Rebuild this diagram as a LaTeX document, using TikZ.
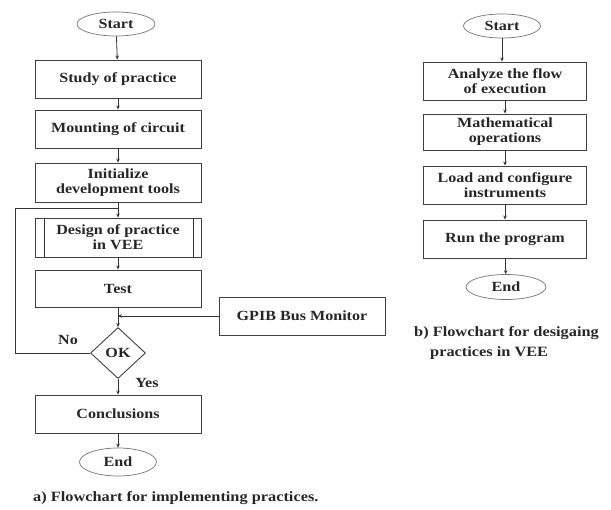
\documentclass[tikz,border=0pt]{standalone}
\usepackage{fontspec}
\setmainfont{Liberation Serif}[FakeStretch=1.15]
\usetikzlibrary{shapes.geometric,arrows.meta}
\begin{document}
\begin{tikzpicture}[x=1pt,y=-1pt,
  lbl/.style={font=\fontsize{14}{15}\selectfont\bfseries, text=black!85},
  box/.style={lbl, draw=black!75, line width=0.9pt, rectangle, minimum width=166pt, inner sep=0pt, align=center},
  term/.style={lbl, draw=black!55, line width=0.7pt, ellipse, inner sep=0pt, align=center},
  dec/.style={lbl, draw=black!75, line width=0.9pt, diamond, minimum width=55pt, minimum height=51pt, inner sep=0pt},
  arr/.style={draw=black!80, line width=0.8pt, -{Stealth[length=4pt,width=3.5pt]}},
  ln/.style={draw=black!80, line width=0.8pt},
  captxt/.style={font=\fontsize{14.2}{17}\selectfont\bfseries, text=black!85, inner sep=0pt}
]
\useasboundingbox (0,0) rectangle (611,510);
% left chart
\node[term, minimum width=78pt, minimum height=24pt] (s1) at (116,24) {Start};
\node[box, minimum height=38pt] (b1) at (118,79) {Study of practice};
\node[box, minimum height=38pt] (b2) at (118,129) {Mounting of circuit};
\node[box, minimum height=39pt] (b3) at (118,182.5) {Initialize\\development tools};
\node[box, minimum height=39pt] (b4) at (118,237.5) {Design of practice\\in VEE};
\draw[ln] ([xshift=10pt]b4.north west) -- ([xshift=10pt]b4.south west);
\draw[ln] ([xshift=-8pt]b4.north east) -- ([xshift=-8pt]b4.south east);
\node[box, minimum height=37pt] (b5) at (118,288.5) {Test};
\node[box, minimum width=166pt, minimum height=38pt] (g) at (302,316) {GPIB Bus Monitor};
\coordinate (m) at (118,316);
\node[dec] (d) at (118,353) {OK};
\node[box, minimum height=38pt] (b6) at (118,414) {Conclusions};
\node[term, minimum width=77pt, minimum height=28pt] (e1) at (118,462) {End};
\coordinate (j) at (118,208);
\coordinate (lc) at (15,353);
\coordinate (lt) at (15,208);
\draw[arr] (s1) -- (b1);
\draw[arr] (b1) -- (b2);
\draw[arr] (b2) -- (b3);
\draw[arr] (b3) -- (b4);
\draw[arr] (b4) -- (b5);
\draw[ln] (b5) -- (m);
\draw[arr] (g.west) -- (m);
\draw[arr] (m) -- (d.north);
\draw[arr] (d.south) -- (b6);
\draw[arr] (b6) -- (e1);
\draw[ln] (d.west) -- (lc) -- (lt) -- (j);
\node[lbl] (no) at (68,340) {No};
\node[lbl] (yes) at (147,383) {Yes};
\node[captxt, anchor=west] (ca) at (33,498) {a) Flowchart for implementing practices.};
% right chart
\node[term, minimum width=77pt, minimum height=24pt] (s2) at (502,26) {Start};
\node[box, minimum width=163pt, minimum height=38pt] (r1) at (505,81) {Analyze the flow\\of execution};
\node[box, minimum width=163pt, minimum height=36pt] (r2) at (505,132) {Mathematical\\operations};
\node[box, minimum width=163pt, minimum height=38pt] (r3) at (505,185) {Load and configure\\instruments};
\node[box, minimum width=163pt, minimum height=38pt] (r4) at (505,239) {Run the program};
\node[term, minimum width=80pt, minimum height=25pt] (e2) at (506,287) {End};
\draw[arr] (s2) -- (s2 |- r1.north);
\draw[arr] (r1) -- (r2);
\draw[arr] (r2) -- (r3);
\draw[arr] (r3) -- (r4);
\draw[arr] (r4) -- (e2);
\node[captxt, anchor=west] (cb1) at (414,333) {b) Flowchart for desigaing};
\node[captxt, anchor=west] (cb2) at (430,353) {practices in VEE};
\end{tikzpicture}
\end{document}
